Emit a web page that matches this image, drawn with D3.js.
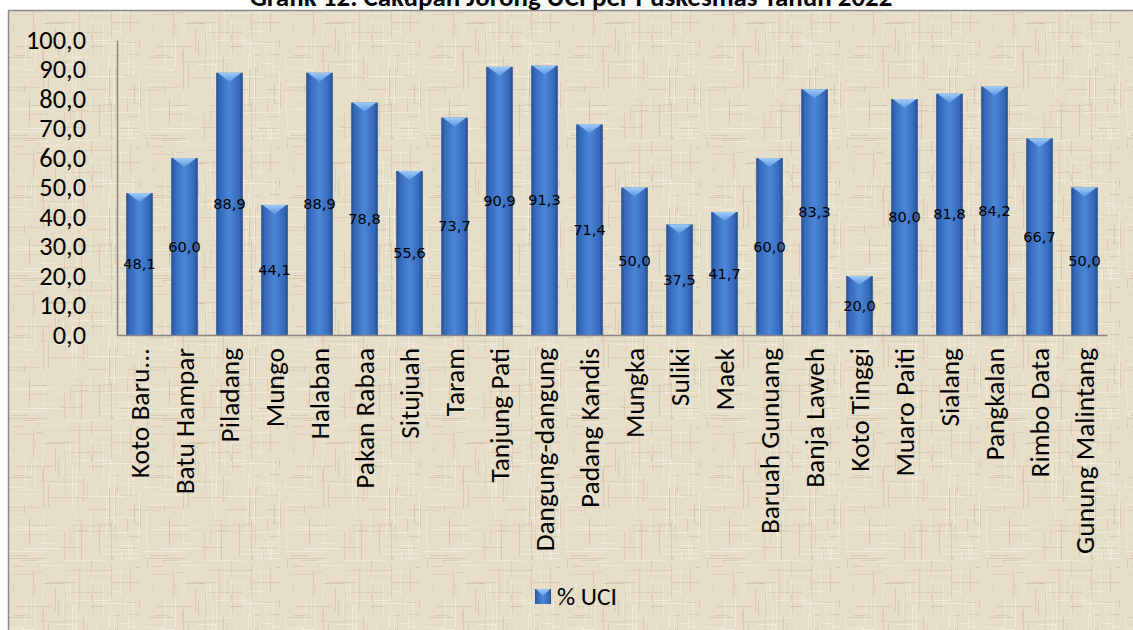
<!DOCTYPE html>
<html>
<head>
<meta charset="utf-8">
<script src="https://cdn.jsdelivr.net/npm/d3@7"></script>
<style>
  html, body { margin: 0; padding: 0; background: #ffffff; }
  svg { display: block; }
</style>
</head>
<body>
<svg id="chart" width="1133" height="630"></svg>
<script>
// ---------- data ----------
const titleText = "Grafik 12. Cakupan Jorong  UCI per Puskesmas Tahun 2022";
const categories = [
  "Koto Baru...", "Batu Hampar", "Piladang", "Mungo", "Halaban", "Pakan Rabaa",
  "Situjuah", "Taram", "Tanjung Pati", "Dangung-dangung", "Padang Kandis",
  "Mungka", "Suliki", "Maek", "Baruah Gunuang", "Banja Laweh", "Koto Tinggi",
  "Muaro Paiti", "Sialang", "Pangkalan", "Rimbo Data", "Gunung Malintang"
];
const uciValues = [
  48.1, 60.0, 88.9, 44.1, 88.9, 78.8, 55.6, 73.7, 90.9, 91.3, 71.4,
  50.0, 37.5, 41.7, 60.0, 83.3, 20.0, 80.0, 81.8, 84.2, 66.7, 50.0
];
const yTicks = [0, 10, 20, 30, 40, 50, 60, 70, 80, 90, 100];
const seriesName = "% UCI";

// ---------- layout ----------
const svg = d3.select("#chart");
const W = 1133, H = 630;
const plot = { left: 117, right: 1107, top: 40, bottom: 335 };
const fmt = v => d3.format(".1f")(v).replace(".", ",");
const uiFont = "Carlito, Calibri, Lato, 'Open Sans', sans-serif";

const defs = svg.append("defs");

// canvas-like texture (deterministic, soft)
const tile = 140;
const pat = defs.append("pattern").attr("id", "canvasTex")
  .attr("patternUnits", "userSpaceOnUse").attr("width", tile).attr("height", tile);
pat.append("rect").attr("width", tile).attr("height", tile).attr("fill", "#e7dec9");
const hash = i => { const s = Math.sin(i * 12.9898 + 78.233) * 43758.5453; return s - Math.floor(s); };
for (let i = 0; i < 160; i++) {
  const px = Math.floor(hash(i + 600) * tile), py = Math.floor(hash(i + 700) * tile);
  const len = 6 + Math.floor(hash(i + 800) * 40);
  const vert = hash(i + 900) > 0.45;
  const light = hash(i + 1000) > 0.45;
  pat.append("rect").attr("x", px).attr("y", py)
    .attr("width", vert ? 1 : len).attr("height", vert ? len : 1)
    .attr("fill", light ? "#f5f0e6" : "#cbbd9f")
    .attr("opacity", 0.35 + hash(i + 1100) * 0.35);
}

// bar gradients
const gBar = defs.append("linearGradient").attr("id", "barGrad").attr("x1", 0).attr("x2", 1).attr("y1", 0).attr("y2", 0);
[["0%", "#244e90"], ["12%", "#3467b8"], ["50%", "#4c86d6"], ["88%", "#3467b8"], ["100%", "#214987"]]
  .forEach(([o, c]) => gBar.append("stop").attr("offset", o).attr("stop-color", c));
const gCap = defs.append("linearGradient").attr("id", "capGrad").attr("x1", 0).attr("x2", 0).attr("y1", 0).attr("y2", 1);
[["0%", "#9ccaf8"], ["100%", "#5d98e2"]]
  .forEach(([o, c]) => gCap.append("stop").attr("offset", o).attr("stop-color", c));

// chart area background with border
svg.append("rect").attr("x", 8.5).attr("y", 10.5).attr("width", W + 20).attr("height", H + 20)
  .attr("fill", "url(#canvasTex)").attr("stroke", "#8a8a8a").attr("stroke-width", 1.5);

// title (partially cut at top like the reference)
const title = svg.append("text").attr("x", 571).attr("y", 6)
  .attr("text-anchor", "middle").attr("font-family", uiFont).attr("font-weight", "bold")
  .attr("font-size", 20).attr("fill", "#000").text(titleText);
{
  const w = title.node().getComputedTextLength();
  title.attr("font-size", 20 * 643 / w);
}

// scales
const x = d3.scaleBand().domain(categories).range([plot.left, plot.right]).paddingInner(0.41).paddingOuter(0.205);
const y = d3.scaleLinear().domain([0, 100]).range([plot.bottom, plot.top]);

// y axis
const yAxis = svg.append("g").attr("transform", `translate(${plot.left},0)`)
  .call(d3.axisLeft(y).tickValues(yTicks).tickFormat(fmt).tickSize(0).tickPadding(31));
yAxis.select(".domain").attr("stroke", "#868686").attr("stroke-width", 1.5);
yAxis.selectAll("text").attr("font-family", uiFont).attr("font-size", 22).attr("fill", "#000");
{
  const t = yAxis.selectAll("text").filter(d => d === 100).node();
  const w = t.getComputedTextLength();
  yAxis.selectAll("text").attr("font-size", 22 * 60 / w);
}

// bars
const barData = categories.map((c, i) => ({ c, v: uciValues[i] }));
const bars = svg.append("g").selectAll("g.bar").data(barData).join("g").attr("class", "bar");
bars.append("rect")
  .attr("x", d => x(d.c)).attr("y", d => y(d.v))
  .attr("width", x.bandwidth()).attr("height", d => y(0) - y(d.v))
  .attr("fill", "url(#barGrad)");
bars.append("path")
  .attr("d", d => {
    const x0 = x(d.c), x1 = x0 + x.bandwidth(), t = y(d.v);
    return `M${x0 + 1.5},${t} L${x1 - 1.5},${t} L${(x0 + x1) / 2},${t + 9} Z`;
  })
  .attr("fill", "url(#capGrad)");

// x axis
const xAxis = svg.append("g").attr("transform", `translate(0,${plot.bottom})`)
  .call(d3.axisBottom(x).tickSize(0));
xAxis.select(".domain").attr("stroke", "#868686").attr("stroke-width", 1.5);
xAxis.selectAll("text")
  .attr("transform", "rotate(-90)")
  .attr("x", -13).attr("y", 0).attr("dy", "0.35em")
  .attr("text-anchor", "end")
  .attr("font-family", uiFont).attr("font-size", 20).attr("fill", "#000");
{
  const t = xAxis.selectAll("text").filter(d => d === "Gunung Malintang").node();
  const w = t.getComputedTextLength();
  xAxis.selectAll("text").attr("font-size", 20 * 206 / w);
}

// value labels (centered in bars)
svg.append("g").selectAll("text").data(barData)
  .join("text")
  .attr("x", d => x(d.c) + x.bandwidth() / 2)
  .attr("y", d => (y(d.v) + y(0)) / 2)
  .attr("dy", "0.35em")
  .attr("text-anchor", "middle")
  .attr("font-family", "'DejaVu Sans', Verdana, sans-serif")
  .attr("font-size", 14.5)
  .attr("fill", "#000")
  .text(d => fmt(d.v));

// legend
const lg = svg.append("g").attr("transform", "translate(535,589)");
lg.append("rect").attr("width", 16).attr("height", 15).attr("fill", "url(#barGrad)");
lg.append("path").attr("d", "M1,0 L15,0 L8,7 Z").attr("fill", "url(#capGrad)");
const lt = lg.append("text").attr("x", 22).attr("y", 7.5).attr("dy", "0.35em")
  .attr("font-family", uiFont).attr("font-size", 22).attr("fill", "#000").text(seriesName);
{
  const w = lt.node().getComputedTextLength();
  lt.attr("font-size", 22 * 60 / w);
}
</script>
</body>
</html>
